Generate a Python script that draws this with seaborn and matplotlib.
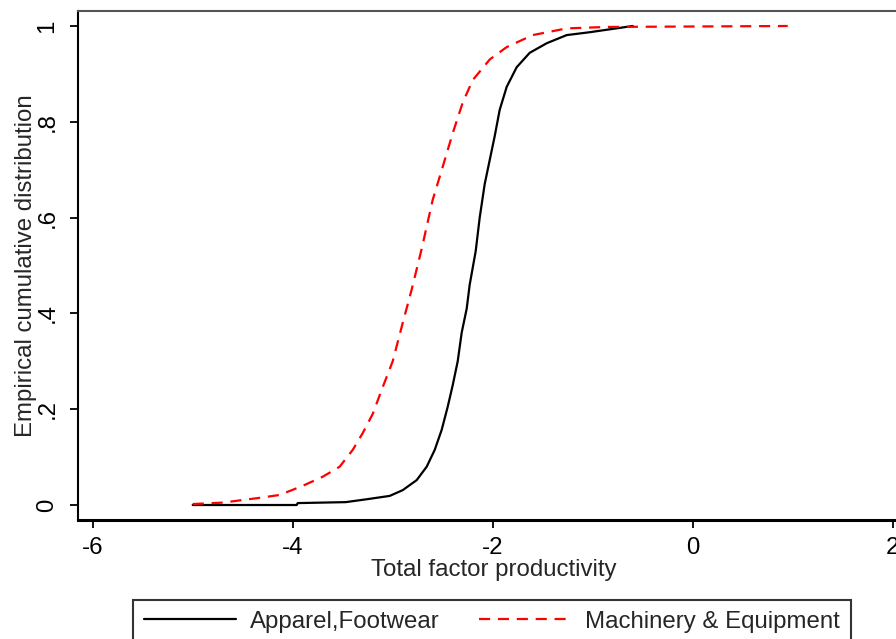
import pandas as pd
import numpy as np
import matplotlib
matplotlib.use("Agg")
import matplotlib.pyplot as plt
import seaborn as sns

# Valeurs (distribution cumulative empirique)
apparel_tfp = [-5.0, -3.96, -3.95, -3.47, -3.26, -3.03, -2.9, -2.76, -2.66, -2.58,
               -2.51, -2.45, -2.40, -2.35, -2.31, -2.26, -2.23, -2.17, -2.13, -2.08,
               -2.03, -1.98, -1.93, -1.86, -1.76, -1.63, -1.46, -1.26, -1.03, -0.6]
apparel_cdf = [0.0, 0.0, 0.004, 0.006, 0.012, 0.019, 0.031, 0.052, 0.08, 0.115,
               0.157, 0.205, 0.25, 0.30, 0.36, 0.41, 0.46, 0.53, 0.60, 0.67,
               0.72, 0.77, 0.825, 0.873, 0.914, 0.944, 0.964, 0.981, 0.987, 1.0]

machinery_tfp = [-5.0, -4.7, -4.33, -4.13, -3.9, -3.7, -3.53, -3.4, -3.3, -3.2,
                 -3.1, -3.0, -2.9, -2.81, -2.71, -2.6, -2.5, -2.4, -2.3, -2.2,
                 -2.03, -1.86, -1.6, -1.26, -0.86, 0.95]
machinery_cdf = [0.002, 0.005, 0.015, 0.021, 0.04, 0.059, 0.08, 0.115, 0.15, 0.19,
                 0.246, 0.30, 0.38, 0.45, 0.535, 0.637, 0.706, 0.776, 0.84, 0.887,
                 0.93, 0.956, 0.981, 0.995, 0.998, 1.0]

x_ticks = [-6, -4, -2, 0, 2]
y_ticks = [0, 0.2, 0.4, 0.6, 0.8, 1]
y_tick_labels = ["0", ".2", ".4", ".6", ".8", "1"]

sns.set_style("white")
plt.rcParams['font.family'] = ['Liberation Sans', 'DejaVu Sans']
plt.rcParams['axes.unicode_minus'] = False

fs = 17.3
W, H = 896, 639
fig = plt.figure(figsize=(W / 100, H / 100), dpi=100)
# l'axe déborde à droite comme dans l'original (bord droit coupé)
left_px, right_px, top_px, bottom_px = 78, 910, 11, 520
ax = fig.add_axes([left_px / W, 1 - bottom_px / H,
                   (right_px - left_px) / W, (bottom_px - top_px) / H])

sns.lineplot(x=apparel_tfp, y=apparel_cdf, ax=ax, sort=False, estimator=None,
             color='black', linewidth=1.6, label='Apparel,Footwear')
sns.lineplot(x=machinery_tfp, y=machinery_cdf, ax=ax, sort=False, estimator=None,
             color='#ff0000', linewidth=1.6, linestyle=(0, (5, 3.5)),
             label='Machinery & Equipment')

ax.set_xlim(-6.147, 2.173)
ax.set_ylim(-0.0313, 1.0313)
ax.set_xticks(x_ticks)
ax.set_yticks(y_ticks)
ax.set_yticklabels(y_tick_labels, rotation=90, va='center')
ax.tick_params(axis='both', which='both', direction='out', length=6, width=1.3,
               labelsize=fs, color='black', labelcolor='black')
ax.tick_params(axis='x', pad=6, bottom=True)
ax.tick_params(axis='y', pad=8, left=True)

for s in ['left', 'bottom', 'top', 'right']:
    ax.spines[s].set_visible(True)
ax.spines['left'].set_color('black')
ax.spines['left'].set_linewidth(1.5)
ax.spines['bottom'].set_color('black')
ax.spines['bottom'].set_linewidth(2.2)
ax.spines['top'].set_color('#555555')
ax.spines['top'].set_linewidth(1.5)
ax.spines['right'].set_visible(False)

ax.set_xlabel('Total factor productivity', fontsize=fs)
ax.set_ylabel('Empirical cumulative distribution', fontsize=fs)
axw = right_px - left_px
axh = bottom_px - top_px
ax.xaxis.set_label_coords(0.5, -(559 - bottom_px) / axh)
ax.yaxis.set_label_coords(-(78 - 37) / axw, 0.5)

ax.get_legend().remove()
handles, labels = ax.get_legend_handles_labels()
leg = fig.legend(handles, labels, loc='upper center', ncol=2,
                 bbox_to_anchor=(492 / W, 1 - 600 / H), bbox_transform=fig.transFigure,
                 fontsize=fs, frameon=True, fancybox=False, handlelength=3.8,
                 handletextpad=0.6, columnspacing=1.65, borderpad=0.45,
                 borderaxespad=0)
leg.get_frame().set_edgecolor('black')
leg.get_frame().set_linewidth(1.5)

fig.savefig('out.png', dpi=100)
